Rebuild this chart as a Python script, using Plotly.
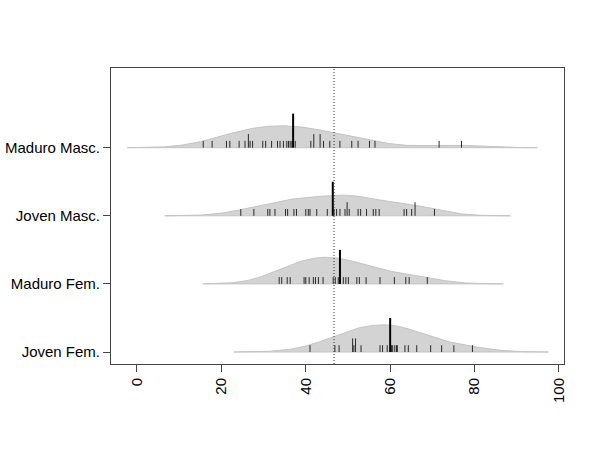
import numpy as np
import plotly.graph_objects as go
from collections import Counter

groups = ["Joven Fem.", "Maduro Fem.", "Joven Masc.", "Maduro Masc."]

joven_fem = [41.0, 46.9, 47.9, 51.1, 51.1, 51.4, 51.8, 51.8, 53.1, 57.6, 58.2, 59.3,
             60.3, 60.6, 61.1, 61.5, 61.7, 63.5, 64.3, 66.3, 69.6, 72.2, 75.1, 79.5]
maduro_fem = [33.7, 34.3, 35.6, 36.3, 39.6, 40.0, 40.8, 41.8, 42.3, 43.0, 44.1, 46.5,
              47.0, 47.7, 48.9, 49.5, 50.1, 52.1, 52.7, 54.3, 57.6, 61.0, 63.7, 64.5, 68.8]
joven_masc = [24.6, 27.7, 31.0, 31.5, 32.7, 35.2, 35.7, 37.2, 37.8, 40.0, 40.6, 41.0,
              42.6, 45.1, 46.7, 47.3, 48.1, 49.3, 49.8, 49.8, 50.3, 52.4, 53.0, 54.4,
              56.0, 56.6, 57.4, 63.3, 63.9, 65.1, 65.9, 65.9, 70.5]
maduro_masc = [15.7, 17.8, 21.2, 22.0, 24.2, 25.6, 26.4, 26.4, 26.8, 27.4, 29.8, 30.5,
               31.9, 33.3, 33.9, 34.7, 35.5, 35.9, 36.3, 36.7, 37.5, 41.2, 41.9, 41.9,
               43.4, 43.4, 44.2, 45.7, 48.1, 50.9, 52.4, 55.1, 56.4, 71.6, 76.9]

group_means = [60.0, 48.1, 46.4, 37.0]
overall_mean = 46.7

x_ticks = [0, 20, 40, 60, 80, 100]

data = [joven_fem, maduro_fem, joven_masc, maduro_masc]

BW = 6.0
LL = 0.10      # bean line length (data units on the group axis)
MEANW = 0.5    # mean line length
PEAK = 0.40    # height of the tallest bean

def kde(vals, bw):
    v = np.asarray(vals)
    grid = np.linspace(v.min() - 3 * bw, v.max() + 3 * bw, 400)
    d = np.exp(-0.5 * ((grid[:, None] - v[None, :]) / bw) ** 2).sum(axis=1)
    d /= (len(v) * bw * np.sqrt(2 * np.pi))
    return grid, d

dens = [kde(v, BW) for v in data]
scale = PEAK / max(d.max() for _, d in dens)

fig = go.Figure()

for i, (vals, (g, d)) in enumerate(zip(data, dens)):
    pos = i + 1
    xs = np.concatenate([g, g[::-1]])
    ys = np.concatenate([pos + d * scale, np.full(len(g), pos)])
    fig.add_trace(go.Scatter(x=xs, y=ys, mode="lines", fill="toself",
                             fillcolor="#d3d3d3", line=dict(color="#c4c4c4", width=1),
                             hoverinfo="skip", showlegend=False))
    cnt = Counter(round(v, 1) for v in vals)
    lx, ly = [], []
    for v, c in cnt.items():
        lx += [v, v, None]
        ly += [pos, pos + LL * c, None]
    fig.add_trace(go.Scatter(x=lx, y=ly, mode="lines",
                             line=dict(color="#2a2a2a", width=1),
                             hoverinfo="skip", showlegend=False))
    m = group_means[i]
    fig.add_trace(go.Scatter(x=[m, m], y=[pos, pos + MEANW], mode="lines",
                             line=dict(color="black", width=2),
                             hoverinfo="skip", showlegend=False))

fig.add_shape(type="line", x0=overall_mean, x1=overall_mean, xref="x",
              y0=0, y1=1, yref="paper",
              line=dict(color="#333", width=1, dash="1px,2px"))

font = dict(family="Arial, Liberation Sans, sans-serif", size=15, color="black")

fig.update_layout(
    width=600, height=450,
    margin=dict(l=111, r=36, t=68, b=86),
    paper_bgcolor="white", plot_bgcolor="white",
    font=font,
    xaxis=dict(range=[-6.16, 101.2], tickvals=x_ticks, ticktext=[str(t) for t in x_ticks],
               tickangle=-90, ticks="outside", ticklen=7, tickcolor="#444",
               showgrid=False, zeroline=False, showline=True, linecolor="#444",
               mirror=True, linewidth=1, automargin=False),
    yaxis=dict(range=[0.824, 5.17], tickvals=[1, 2, 3, 4], ticktext=groups,
               ticks="outside", ticklen=7, tickcolor="#444",
               showgrid=False, zeroline=False, showline=True, linecolor="#444",
               mirror=True, linewidth=1, automargin=False),
)

fig.write_html("out.html")
